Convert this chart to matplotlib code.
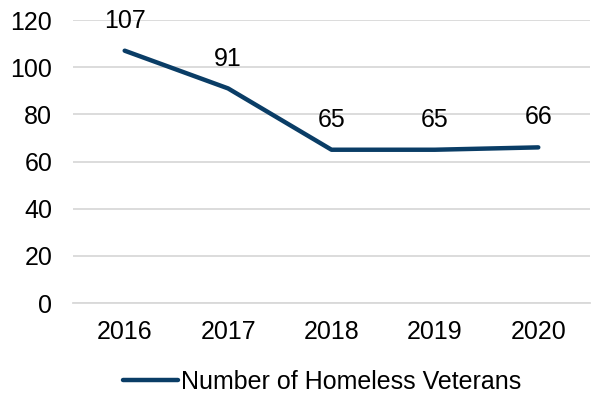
import matplotlib.pyplot as plt

plt.rcParams['font.family'] = ['Liberation Sans', 'DejaVu Sans']

years = ['2016', '2017', '2018', '2019', '2020']
veterans = [107, 91, 65, 65, 66]

line_color = '#0a3d66'
grid_color = '#d9d9d9'
fs = 18

fig = plt.figure(figsize=(5.92, 3.93), dpi=100)
ax = fig.add_axes([0.1233, 0.229, 0.8733, 0.72])

x = list(range(len(years)))
ax.plot(x, veterans, color=line_color, lw=3.2, solid_capstyle='round',
        solid_joinstyle='round', label='Number of Homeless Veterans')

for xi, v in zip(x, veterans):
    ax.annotate(str(v), (xi, v), xytext=(0, 16.5), textcoords='offset points',
                ha='center', va='baseline', fontsize=fs, color='#000000')

ax.set_xlim(-0.5, len(years) - 0.5)
ax.set_ylim(0, 120)
ax.set_yticks(range(0, 121, 20))
ax.set_xticks(x)
ax.set_xticklabels(years)
ax.tick_params(axis='both', length=0, labelsize=fs, colors='#000000')
ax.tick_params(axis='y', pad=15)
ax.tick_params(axis='x', pad=12)

ax.grid(axis='y', color=grid_color, lw=1.3)
ax.set_axisbelow(True)
for s in ['top', 'right', 'left']:
    ax.spines[s].set_visible(False)
ax.spines['bottom'].set_color(grid_color)
ax.spines['bottom'].set_linewidth(1.3)

fig.legend(loc='center', bbox_to_anchor=(0.544, 0.028), frameon=False,
           fontsize=fs, handlelength=2.2, handletextpad=0.12)

fig.savefig('out.png', dpi=100)
